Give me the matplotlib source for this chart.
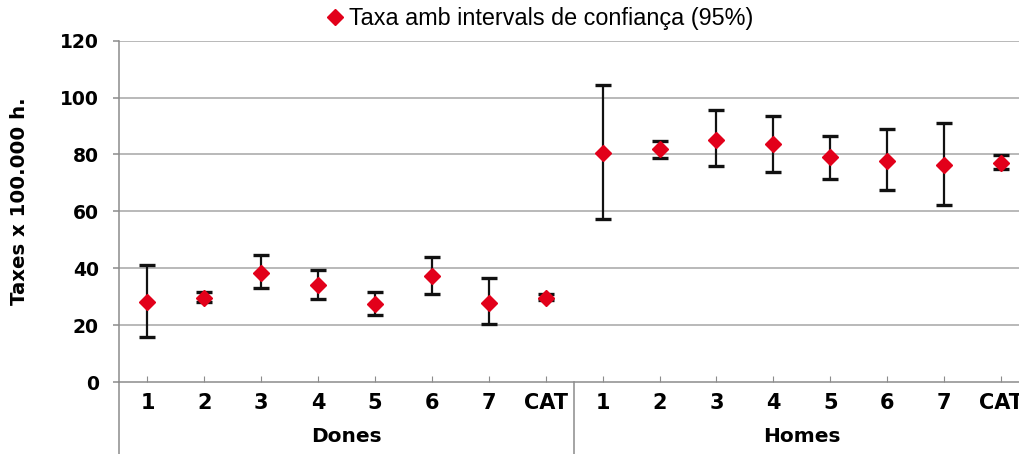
import matplotlib
matplotlib.use("Agg")
import matplotlib.pyplot as plt
from matplotlib.lines import Line2D
from matplotlib.transforms import blended_transform_factory
import numpy as np

plt.rcParams['font.family'] = ['Liberation Sans', 'DejaVu Sans']

groups = ["Dones", "Homes"]
subcats = ["1", "2", "3", "4", "5", "6", "7", "CAT"]

dones_rate = [28.0, 29.7, 38.4, 34.0, 27.3, 37.4, 27.9, 29.6]
dones_low = [15.8, 28.1, 33.1, 29.2, 23.6, 30.9, 20.3, 28.7]
dones_high = [41.1, 31.5, 44.5, 39.5, 31.5, 44.1, 36.7, 31.0]

homes_rate = [80.6, 81.8, 85.2, 83.6, 79.0, 77.8, 76.2, 77.1]
homes_low = [57.4, 78.6, 75.9, 73.7, 71.5, 67.5, 62.4, 74.8]
homes_high = [104.6, 84.9, 95.7, 93.4, 86.6, 88.9, 91.2, 79.9]

legend_label = "Taxa amb intervals de confiança (95%)"
ylabel = "Taxes x 100.000 h."
yticks = [0, 20, 40, 60, 80, 100, 120]

rate = np.array(dones_rate + homes_rate)
low = np.array(dones_low + homes_low)
high = np.array(dones_high + homes_high)
labels = subcats + subcats
x = np.arange(len(rate))

W, H = 1020, 454
fig = plt.figure(figsize=(W / 100, H / 100), dpi=100)
left_px, right_px, top_px, bot_px = 119, 1029.4, 40.7, 382
ax = fig.add_axes([left_px / W, 1 - bot_px / H, (right_px - left_px) / W, (bot_px - top_px) / H])

red = "#E2001A"
grid_c = "#A6A6A6"
axis_c = "#8C8C8C"
bold_font = ["DejaVu Sans"]

ax.set_ylim(0, 120)
ax.set_xlim(-0.5, len(rate) - 0.5)
ax.set_yticks(yticks)
for yv in yticks[1:]:
    ax.axhline(yv, color=grid_c, lw=1.1, zorder=0)

ax.errorbar(x, rate, yerr=[rate - low, high - rate], fmt="none", ecolor="#111111",
            elinewidth=1.6, capsize=6, capthick=2.4, zorder=2)
ax.plot(x, rate, linestyle="none", marker="D", markersize=7.8, color=red,
        markeredgecolor=red, zorder=3, label=legend_label)

for s in ["top", "right"]:
    ax.spines[s].set_visible(False)
ax.spines["left"].set_color(axis_c)
ax.spines["bottom"].set_color(axis_c)
ax.spines["left"].set_linewidth(1.1)
ax.spines["bottom"].set_linewidth(1.1)

ax.set_xticks(x)
ax.set_xticklabels(labels, fontsize=15, fontweight="bold", family=bold_font)
ax.tick_params(axis="x", direction="in", length=4, color=axis_c, pad=8)
ax.set_yticklabels([str(v) for v in yticks], fontsize=13.5, fontweight="bold", family=bold_font)
ax.tick_params(axis="y", direction="out", length=4.5, color=axis_c, width=1.1, pad=10)

ax.set_ylabel(ylabel, fontsize=14.2, fontweight="bold", family=bold_font)
ax.yaxis.label.set_va("center")
ax.yaxis.set_label_coords((19.7 - left_px) / (right_px - left_px), 0.5289)

# group labels and separators
trans = blended_transform_factory(ax.transData, ax.transAxes)
n = len(subcats)
for gi, g in enumerate(groups):
    cx = gi * n + (n - 1) / 2
    ax.text(cx, -(437 - bot_px) / (bot_px - top_px), g, transform=trans, ha="center",
            va="center", fontsize=14.5, fontweight="bold", family=bold_font)
ybot = -(454 - bot_px) / (bot_px - top_px)
for xb in [-0.5, n - 0.5]:
    ax.add_line(Line2D([xb, xb], [0, ybot], transform=trans, color=axis_c,
                       lw=1.1, clip_on=False))

fig.legend(loc="center left", bbox_to_anchor=(328 / W, 1 - 19 / H), frameon=False,
           fontsize=16.8, handlelength=0.62, handletextpad=0.28, borderpad=0,
           borderaxespad=0, markerscale=1.1)

fig.savefig("out.png", dpi=100)
